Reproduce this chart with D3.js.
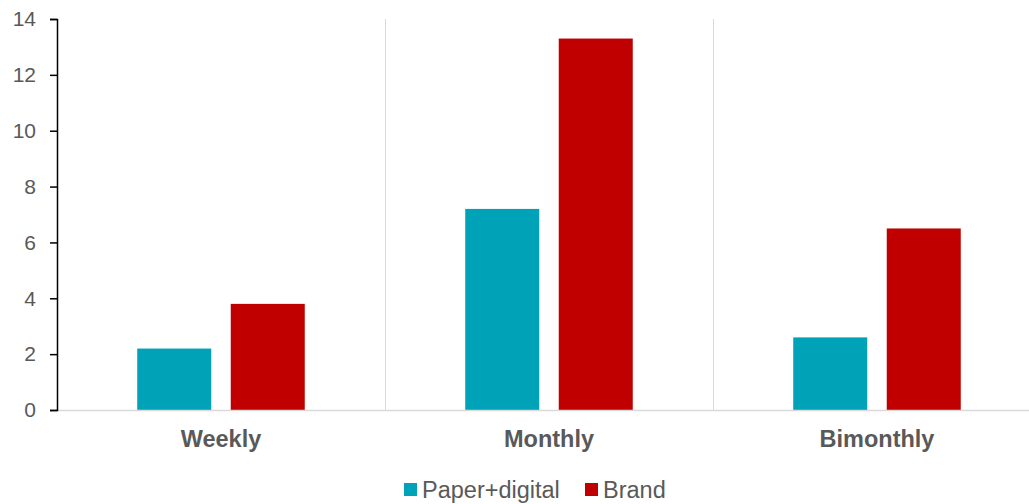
<!DOCTYPE html>
<html>
<head>
<meta charset="utf-8">
<script src="https://cdn.jsdelivr.net/npm/d3@7"></script>
<style>
  body { margin: 0; background: #fff; }
  svg { display: block; font-family: "Liberation Sans", Arial, sans-serif; }
</style>
</head>
<body>
<svg width="1029" height="504"></svg>
<script>
const categories = ['Weekly', 'Monthly', 'Bimonthly'];
const seriesNames = ['Paper+digital', 'Brand'];
const paperValues = [2.2, 7.2, 2.6];
const brandValues = [3.8, 13.3, 6.5];
const yTicks = [0, 2, 4, 6, 8, 10, 12, 14];
const colors = ['#00A2B8', '#C00000'];

const svg = d3.select('svg');
const plotLeft = 57, plotRight = 1041, plotTop = 19, plotBottom = 410;

const x = d3.scaleBand().domain(categories).range([plotLeft, plotRight]).paddingInner(0).paddingOuter(0);
const xs = d3.scaleBand().domain(seriesNames).range([0, x.bandwidth()]).paddingInner(0.2086).paddingOuter(0.858);
const y = d3.scaleLinear().domain([0, 14]).range([plotBottom, plotTop]);

// separators between categories
svg.append('g').selectAll('line')
  .data(categories.slice(1))
  .join('line')
  .attr('x1', d => Math.round(x(d)) + 0.5)
  .attr('x2', d => Math.round(x(d)) + 0.5)
  .attr('y1', plotTop)
  .attr('y2', plotBottom)
  .attr('stroke', '#d9d9d9')
  .attr('stroke-width', 1);

// bars
const rows = categories.map((c, i) => ({cat: c, vals: [paperValues[i], brandValues[i]]}));
svg.append('g').selectAll('g')
  .data(rows)
  .join('g')
  .attr('transform', d => `translate(${x(d.cat)},0)`)
  .selectAll('rect')
  .data(d => d.vals.map((v, j) => ({name: seriesNames[j], v: v, j: j})))
  .join('rect')
  .attr('x', d => xs(d.name))
  .attr('width', xs.bandwidth())
  .attr('y', d => y(d.v))
  .attr('height', d => y(0) - y(d.v))
  .attr('fill', d => colors[d.j]);

// baseline
svg.append('line')
  .attr('x1', plotLeft).attr('x2', plotRight)
  .attr('y1', plotBottom + 0.5).attr('y2', plotBottom + 0.5)
  .attr('stroke', '#d9d9d9').attr('stroke-width', 1.5);

// y axis
const yAxis = d3.axisLeft(y).tickValues(yTicks).tickSize(7).tickPadding(14);
const gy = svg.append('g').attr('transform', `translate(${plotLeft},0)`).call(yAxis);
gy.select('.domain').attr('stroke', '#000').attr('stroke-width', 1.5);
gy.selectAll('.tick line').attr('stroke', '#000').attr('stroke-width', 1.5);
gy.selectAll('.tick text')
  .attr('fill', '#595959')
  .style('font-size', '21px')
  .style('font-family', '"Liberation Sans", Arial, sans-serif');

// category labels
svg.append('g').selectAll('text')
  .data(categories)
  .join('text')
  .attr('x', d => x(d) + x.bandwidth() / 2)
  .attr('y', 447)
  .attr('text-anchor', 'middle')
  .attr('fill', '#595959')
  .style('font-size', '23.5px')
  .style('font-weight', 'bold')
  .text(d => d);

// legend
const legendItems = [
  {name: seriesNames[0], color: colors[0], x: 404},
  {name: seriesNames[1], color: colors[1], x: 585}
];
const lg = svg.append('g').selectAll('g')
  .data(legendItems)
  .join('g')
  .attr('transform', d => `translate(${d.x},483)`);
lg.append('rect').attr('width', 13).attr('height', 13).attr('fill', d => d.color);
lg.append('text')
  .attr('x', 18)
  .attr('y', 14.5)
  .attr('fill', '#595959')
  .style('font-size', '23.5px')
  .text(d => d.name);
</script>
</body>
</html>
